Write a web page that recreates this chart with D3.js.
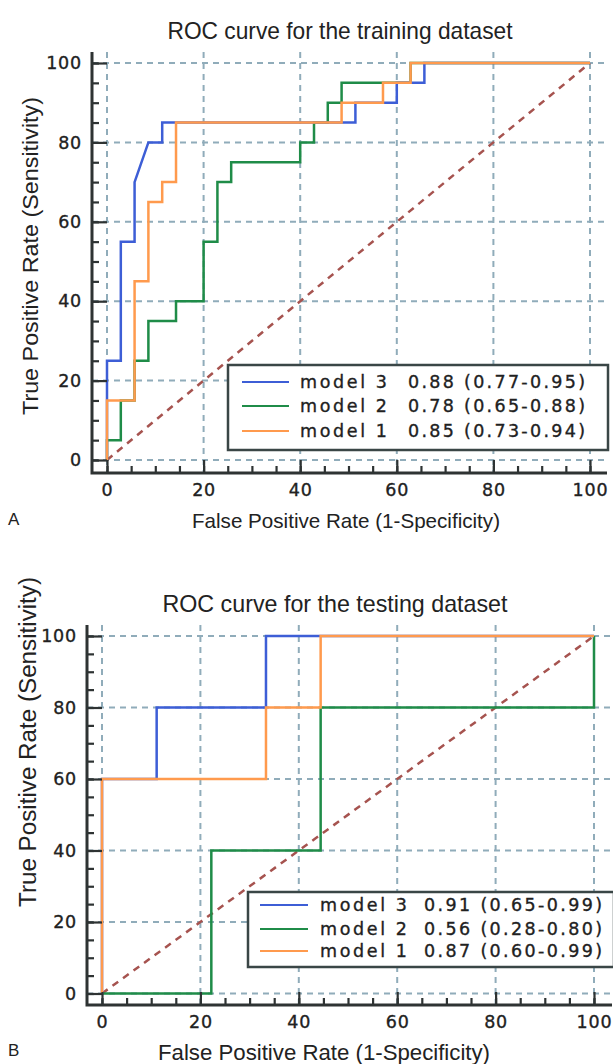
<!DOCTYPE html>
<html>
<head>
<meta charset="utf-8">
<script src="https://cdn.jsdelivr.net/npm/d3@7"></script>
<style>
  body { margin: 0; background: #fff; }
  text { font-family: "Liberation Sans", Arial, sans-serif; fill: #222; }
</style>
</head>
<body>
<svg id="chart" width="613" height="1064"></svg>
<script>
// ---- data ----
const modelNames = ["model 3", "model 2", "model 1"];
const modelColors = ["#3d5ed6", "#1f8c48", "#ff9a4d"];
const trainAuc = ["0.88 (0.77-0.95)", "0.78 (0.65-0.88)", "0.85 (0.73-0.94)"];
const testAuc = ["0.91 (0.65-0.99)", "0.56 (0.28-0.80)", "0.87 (0.60-0.99)"];

const majorTicks = [0, 20, 40, 60, 80, 100];
const minorTicks = d3.range(0, 101, 5);

// training set (35 negatives, 20 positives)
const trainModel3Fpr = [0, 0, 2.86, 2.86, 5.71, 5.71, 8.57, 11.43, 11.43, 51.43, 51.43, 60, 60, 65.71, 65.71, 100];
const trainModel3Tpr = [0, 25, 25, 55, 55, 70, 80, 80, 85, 85, 90, 90, 95, 95, 100, 100];
const trainModel2Fpr = [0, 0, 2.86, 2.86, 5.71, 5.71, 8.57, 8.57, 14.29, 14.29, 20, 20, 22.86, 22.86, 25.71, 25.71, 40, 40, 42.86, 42.86, 45.71, 45.71, 48.57, 48.57, 62.86, 62.86, 100];
const trainModel2Tpr = [0, 5, 5, 15, 15, 25, 25, 35, 35, 40, 40, 55, 55, 70, 70, 75, 75, 80, 80, 85, 85, 90, 90, 95, 95, 100, 100];
const trainModel1Fpr = [0, 0, 5.71, 5.71, 8.57, 8.57, 11.43, 11.43, 14.29, 14.29, 48.57, 48.57, 57.14, 57.14, 62.86, 62.86, 100];
const trainModel1Tpr = [0, 15, 15, 45, 45, 65, 65, 70, 70, 85, 85, 90, 90, 95, 95, 100, 100];

// testing set (9 negatives, 5 positives)
const testModel3Fpr = [0, 0, 11.11, 11.11, 33.33, 33.33, 100];
const testModel3Tpr = [0, 60, 60, 80, 80, 100, 100];
const testModel2Fpr = [0, 22.22, 22.22, 44.44, 44.44, 100, 100];
const testModel2Tpr = [0, 0, 40, 40, 80, 80, 100];
const testModel1Fpr = [0, 0, 33.33, 33.33, 44.44, 44.44, 100];
const testModel1Tpr = [0, 60, 60, 80, 80, 100, 100];

const svg = d3.select("#chart");
const wideFont = '"DejaVu Sans", Verdana, sans-serif';

function drawPanel(p) {
  const g = svg.append("g");
  const x = d3.scaleLinear().domain([0, 100]).range([p.x0, p.x1]);
  const y = d3.scaleLinear().domain([0, 100]).range([p.y0, p.y1]);

  // dashed grid, running over the whole frame
  g.selectAll("line.vgrid").data(majorTicks).enter().append("line")
    .attr("x1", d => x(d)).attr("x2", d => x(d))
    .attr("y1", p.frameTop).attr("y2", p.axY)
    .attr("stroke", "#90acba").attr("stroke-width", 2).attr("stroke-dasharray", "6,5");
  g.selectAll("line.hgrid").data(majorTicks).enter().append("line")
    .attr("y1", d => y(d)).attr("y2", d => y(d))
    .attr("x1", p.axX).attr("x2", p.frameRight)
    .attr("stroke", "#90acba").attr("stroke-width", 2).attr("stroke-dasharray", "6,5");

  // chance line
  g.append("line")
    .attr("x1", x(0)).attr("y1", y(0)).attr("x2", x(100)).attr("y2", y(100))
    .attr("stroke", "#a6534f").attr("stroke-width", 2.5).attr("stroke-dasharray", "7,6");

  // curves: green under, blue, orange on top
  const line = d3.line().x(d => x(d[0])).y(d => y(d[1]));
  [1, 0, 2].forEach(k => {
    const pts = d3.zip(p.fpr[k], p.tpr[k]);
    g.append("path").datum(pts)
      .attr("d", line)
      .attr("fill", "none")
      .attr("stroke", modelColors[k])
      .attr("stroke-width", 2.5);
  });

  // axes with inward ticks
  const yMinor = d3.axisLeft(y).tickValues(minorTicks).tickSize(-7).tickFormat("");
  const yMajor = d3.axisLeft(y).tickValues(majorTicks).tickSize(-15).tickPadding(10);
  const xMinor = d3.axisBottom(x).tickValues(minorTicks).tickSize(-7).tickFormat("");
  const xMajor = d3.axisBottom(x).tickValues(majorTicks).tickSize(-13).tickPadding(11);

  [yMinor, yMajor].forEach(a => {
    g.append("g").attr("transform", "translate(" + p.axX + ",0)").call(a)
      .call(s => s.select(".domain").remove());
  });
  [xMinor, xMajor].forEach(a => {
    g.append("g").attr("transform", "translate(0," + p.axY + ")").call(a)
      .call(s => s.select(".domain").remove());
  });
  g.selectAll(".tick line").attr("stroke", "#2e3333").attr("stroke-width", 2.2);
  g.selectAll(".tick text")
    .style("font-family", wideFont)
    .style("font-size", "17.5px").style("letter-spacing", "0.8px")
    .attr("fill", "#1e1e1e").attr("stroke", "#1e1e1e").attr("stroke-width", 0.35);

  // frame lines
  g.append("path")
    .attr("d", "M" + p.axX + "," + p.frameTop + "V" + p.axY + "H" + p.frameRight)
    .attr("fill", "none").attr("stroke", "#2e3333").attr("stroke-width", 3);

  // titles
  g.append("text").attr("x", p.title.x).attr("y", p.title.y)
    .attr("text-anchor", "middle").style("font-size", "24px")
    .attr("textLength", p.title.len).attr("lengthAdjust", "spacingAndGlyphs")
    .text(p.title.text);
  g.append("text").attr("x", p.xlab.x).attr("y", p.xlab.y)
    .attr("text-anchor", "middle").style("font-size", p.xlab.size + "px")
    .attr("textLength", p.xlab.len).attr("lengthAdjust", "spacingAndGlyphs")
    .text("False Positive Rate (1-Specificity)");
  g.append("text")
    .attr("transform", "translate(" + p.ylab.x + "," + p.ylab.y + ") rotate(-90)")
    .attr("text-anchor", "middle").style("font-size", p.ylab.size + "px")
    .attr("textLength", p.ylab.len).attr("lengthAdjust", "spacingAndGlyphs")
    .text("True Positive Rate (Sensitivity)");
  g.append("text").attr("x", p.tag.x).attr("y", p.tag.y)
    .style("font-size", "17px").text(p.tag.text);

  // legend
  const L = p.legend;
  g.append("rect").attr("x", L.x).attr("y", L.y).attr("width", L.w).attr("height", L.h)
    .attr("fill", "#fff").attr("stroke", "#3a4646").attr("stroke-width", 2.5);
  modelNames.forEach((name, k) => {
    const ry = L.rowY[k];
    g.append("line").attr("x1", L.lx0).attr("x2", L.lx1).attr("y1", ry).attr("y2", ry)
      .attr("stroke", modelColors[k]).attr("stroke-width", 2);
    [[name, L.nameX, L.nameLen], [p.auc[k], L.valX, L.valLen]].forEach(([t, tx, tl]) => {
      g.append("text").attr("x", tx).attr("y", ry + 6)
        .style("font-family", wideFont).style("font-size", "17.5px")
        .attr("fill", "#1e1e1e").attr("stroke", "#1e1e1e").attr("stroke-width", 0.35)
        .attr("textLength", tl).attr("lengthAdjust", "spacing")
        .text(t);
    });
  });
}

drawPanel({
  x0: 107, x1: 590, y0: 460, y1: 63,
  axX: 92, axY: 473, frameTop: 52, frameRight: 607,
  fpr: [trainModel3Fpr, trainModel2Fpr, trainModel1Fpr],
  tpr: [trainModel3Tpr, trainModel2Tpr, trainModel1Tpr],
  auc: trainAuc,
  title: { text: "ROC curve for the training dataset", x: 340, y: 39, len: 345 },
  xlab: { x: 346, y: 528, len: 308, size: 21 },
  ylab: { x: 38, y: 256, len: 318, size: 22 },
  tag: { text: "A", x: 8, y: 525 },
  legend: { x: 228, y: 365, w: 380, h: 85, lx0: 242, lx1: 289, rowY: [382, 406, 431],
            nameX: 300, nameLen: 87, valX: 408, valLen: 177 }
});

drawPanel({
  x0: 102, x1: 594, y0: 993.5, y1: 636,
  axX: 87, axY: 1005, frameTop: 625, frameRight: 612,
  fpr: [testModel3Fpr, testModel2Fpr, testModel1Fpr],
  tpr: [testModel3Tpr, testModel2Tpr, testModel1Tpr],
  auc: testAuc,
  title: { text: "ROC curve for the testing dataset", x: 335, y: 612, len: 345 },
  xlab: { x: 324, y: 1060, len: 332, size: 22 },
  ylab: { x: 36, y: 742, len: 330, size: 23 },
  tag: { text: "B", x: 8, y: 1056 },
  legend: { x: 248, y: 892, w: 366, h: 75, lx0: 260, lx1: 308, rowY: [905, 929, 951],
            nameX: 320, nameLen: 87, valX: 424, valLen: 178 }
});
</script>
</body>
</html>
